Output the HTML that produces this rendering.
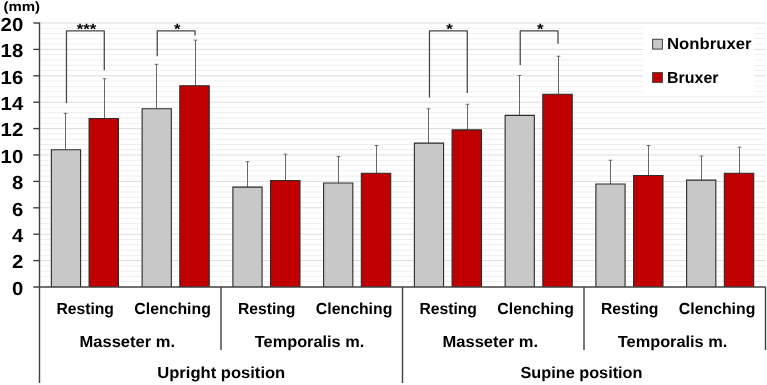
<!DOCTYPE html>
<html lang="en"><head><meta charset="utf-8"><title>Muscle thickness chart</title>
<style>html,body{margin:0;padding:0;background:#fff;}body{width:767px;height:385px;overflow:hidden;}svg{display:block;}text{text-rendering:geometricPrecision;font-family:"Liberation Sans",sans-serif;font-weight:bold;fill:#000;}</style></head><body>
<svg width="767" height="385" viewBox="0 0 767 385">
<rect width="767" height="385" fill="#fff"/>
<g shape-rendering="auto">
<line x1="39.5" x2="765.5" y1="281.72" y2="281.72" stroke="#efefef" stroke-width="1"/>
<line x1="39.5" x2="765.5" y1="276.44" y2="276.44" stroke="#efefef" stroke-width="1"/>
<line x1="39.5" x2="765.5" y1="271.16" y2="271.16" stroke="#efefef" stroke-width="1"/>
<line x1="39.5" x2="765.5" y1="265.88" y2="265.88" stroke="#efefef" stroke-width="1"/>
<line x1="39.5" x2="765.5" y1="260.60" y2="260.60" stroke="#dcdcdc" stroke-width="1"/>
<line x1="39.5" x2="765.5" y1="255.32" y2="255.32" stroke="#efefef" stroke-width="1"/>
<line x1="39.5" x2="765.5" y1="250.04" y2="250.04" stroke="#efefef" stroke-width="1"/>
<line x1="39.5" x2="765.5" y1="244.76" y2="244.76" stroke="#efefef" stroke-width="1"/>
<line x1="39.5" x2="765.5" y1="239.48" y2="239.48" stroke="#efefef" stroke-width="1"/>
<line x1="39.5" x2="765.5" y1="234.20" y2="234.20" stroke="#dcdcdc" stroke-width="1"/>
<line x1="39.5" x2="765.5" y1="228.92" y2="228.92" stroke="#efefef" stroke-width="1"/>
<line x1="39.5" x2="765.5" y1="223.64" y2="223.64" stroke="#efefef" stroke-width="1"/>
<line x1="39.5" x2="765.5" y1="218.36" y2="218.36" stroke="#efefef" stroke-width="1"/>
<line x1="39.5" x2="765.5" y1="213.08" y2="213.08" stroke="#efefef" stroke-width="1"/>
<line x1="39.5" x2="765.5" y1="207.80" y2="207.80" stroke="#dcdcdc" stroke-width="1"/>
<line x1="39.5" x2="765.5" y1="202.52" y2="202.52" stroke="#efefef" stroke-width="1"/>
<line x1="39.5" x2="765.5" y1="197.24" y2="197.24" stroke="#efefef" stroke-width="1"/>
<line x1="39.5" x2="765.5" y1="191.96" y2="191.96" stroke="#efefef" stroke-width="1"/>
<line x1="39.5" x2="765.5" y1="186.68" y2="186.68" stroke="#efefef" stroke-width="1"/>
<line x1="39.5" x2="765.5" y1="181.40" y2="181.40" stroke="#dcdcdc" stroke-width="1"/>
<line x1="39.5" x2="765.5" y1="176.12" y2="176.12" stroke="#efefef" stroke-width="1"/>
<line x1="39.5" x2="765.5" y1="170.84" y2="170.84" stroke="#efefef" stroke-width="1"/>
<line x1="39.5" x2="765.5" y1="165.56" y2="165.56" stroke="#efefef" stroke-width="1"/>
<line x1="39.5" x2="765.5" y1="160.28" y2="160.28" stroke="#efefef" stroke-width="1"/>
<line x1="39.5" x2="765.5" y1="155.00" y2="155.00" stroke="#dcdcdc" stroke-width="1"/>
<line x1="39.5" x2="765.5" y1="149.72" y2="149.72" stroke="#efefef" stroke-width="1"/>
<line x1="39.5" x2="765.5" y1="144.44" y2="144.44" stroke="#efefef" stroke-width="1"/>
<line x1="39.5" x2="765.5" y1="139.16" y2="139.16" stroke="#efefef" stroke-width="1"/>
<line x1="39.5" x2="765.5" y1="133.88" y2="133.88" stroke="#efefef" stroke-width="1"/>
<line x1="39.5" x2="765.5" y1="128.60" y2="128.60" stroke="#dcdcdc" stroke-width="1"/>
<line x1="39.5" x2="765.5" y1="123.32" y2="123.32" stroke="#efefef" stroke-width="1"/>
<line x1="39.5" x2="765.5" y1="118.04" y2="118.04" stroke="#efefef" stroke-width="1"/>
<line x1="39.5" x2="765.5" y1="112.76" y2="112.76" stroke="#efefef" stroke-width="1"/>
<line x1="39.5" x2="765.5" y1="107.48" y2="107.48" stroke="#efefef" stroke-width="1"/>
<line x1="39.5" x2="765.5" y1="102.20" y2="102.20" stroke="#dcdcdc" stroke-width="1"/>
<line x1="39.5" x2="765.5" y1="96.92" y2="96.92" stroke="#efefef" stroke-width="1"/>
<line x1="39.5" x2="765.5" y1="91.64" y2="91.64" stroke="#efefef" stroke-width="1"/>
<line x1="39.5" x2="765.5" y1="86.36" y2="86.36" stroke="#efefef" stroke-width="1"/>
<line x1="39.5" x2="765.5" y1="81.08" y2="81.08" stroke="#efefef" stroke-width="1"/>
<line x1="39.5" x2="765.5" y1="75.80" y2="75.80" stroke="#dcdcdc" stroke-width="1"/>
<line x1="39.5" x2="765.5" y1="70.52" y2="70.52" stroke="#efefef" stroke-width="1"/>
<line x1="39.5" x2="765.5" y1="65.24" y2="65.24" stroke="#efefef" stroke-width="1"/>
<line x1="39.5" x2="765.5" y1="59.96" y2="59.96" stroke="#efefef" stroke-width="1"/>
<line x1="39.5" x2="765.5" y1="54.68" y2="54.68" stroke="#efefef" stroke-width="1"/>
<line x1="39.5" x2="765.5" y1="49.40" y2="49.40" stroke="#dcdcdc" stroke-width="1"/>
<line x1="39.5" x2="765.5" y1="44.12" y2="44.12" stroke="#efefef" stroke-width="1"/>
<line x1="39.5" x2="765.5" y1="38.84" y2="38.84" stroke="#efefef" stroke-width="1"/>
<line x1="39.5" x2="765.5" y1="33.56" y2="33.56" stroke="#efefef" stroke-width="1"/>
<line x1="39.5" x2="765.5" y1="28.28" y2="28.28" stroke="#efefef" stroke-width="1"/>
<line x1="39.5" x2="765.5" y1="23.00" y2="23.00" stroke="#dcdcdc" stroke-width="1"/>
</g>
<rect x="643" y="24.5" width="111.7" height="69.5" fill="#fff"/>
<line x1="65.5" x2="65.5" y1="113.29" y2="149.72" stroke="#686868" stroke-width="1"/>
<line x1="63.7" x2="67.3" y1="113.29" y2="113.29" stroke="#686868" stroke-width="1"/>
<line x1="104.5" x2="104.5" y1="78.7" y2="118.44" stroke="#686868" stroke-width="1"/>
<line x1="102.7" x2="106.3" y1="78.7" y2="78.7" stroke="#686868" stroke-width="1"/>
<rect x="51.38" y="149.72" width="29.2" height="137.28" fill="#c8c8c8"/>
<polyline points="51.38,287.0 51.38,149.72 80.58,149.72 80.58,287.0" fill="none" stroke="#2b2b2b" stroke-width="1.1"/>
<rect x="89.08" y="118.44" width="29.4" height="168.56" fill="#c00000"/>
<polyline points="89.08,287.0 89.08,118.44 118.47,118.44 118.47,287.0" fill="none" stroke="#2b2b2b" stroke-width="1.1"/>
<line x1="156.5" x2="156.5" y1="64.32" y2="108.80" stroke="#686868" stroke-width="1"/>
<line x1="154.7" x2="158.3" y1="64.32" y2="64.32" stroke="#686868" stroke-width="1"/>
<line x1="195.5" x2="195.5" y1="40.16" y2="85.70" stroke="#686868" stroke-width="1"/>
<line x1="193.7" x2="197.3" y1="40.16" y2="40.16" stroke="#686868" stroke-width="1"/>
<rect x="142.12" y="108.80" width="29.2" height="178.20" fill="#c8c8c8"/>
<polyline points="142.12,287.0 142.12,108.80 171.32,108.80 171.32,287.0" fill="none" stroke="#2b2b2b" stroke-width="1.1"/>
<rect x="179.82" y="85.70" width="29.4" height="201.30" fill="#c00000"/>
<polyline points="179.82,287.0 179.82,85.70 209.22,85.70 209.22,287.0" fill="none" stroke="#2b2b2b" stroke-width="1.1"/>
<line x1="247.5" x2="247.5" y1="161.73" y2="187.08" stroke="#686868" stroke-width="1"/>
<line x1="245.7" x2="249.3" y1="161.73" y2="161.73" stroke="#686868" stroke-width="1"/>
<line x1="285.5" x2="285.5" y1="154.21" y2="180.48" stroke="#686868" stroke-width="1"/>
<line x1="283.7" x2="287.3" y1="154.21" y2="154.21" stroke="#686868" stroke-width="1"/>
<rect x="232.88" y="187.08" width="29.2" height="99.92" fill="#c8c8c8"/>
<polyline points="232.88,287.0 232.88,187.08 262.07,187.08 262.07,287.0" fill="none" stroke="#2b2b2b" stroke-width="1.1"/>
<rect x="270.57" y="180.48" width="29.4" height="106.52" fill="#c00000"/>
<polyline points="270.57,287.0 270.57,180.48 299.97,180.48 299.97,287.0" fill="none" stroke="#2b2b2b" stroke-width="1.1"/>
<line x1="338.5" x2="338.5" y1="156.45" y2="182.98" stroke="#686868" stroke-width="1"/>
<line x1="336.7" x2="340.3" y1="156.45" y2="156.45" stroke="#686868" stroke-width="1"/>
<line x1="376.5" x2="376.5" y1="145.5" y2="173.22" stroke="#686868" stroke-width="1"/>
<line x1="374.7" x2="378.3" y1="145.5" y2="145.5" stroke="#686868" stroke-width="1"/>
<rect x="323.62" y="182.98" width="29.2" height="104.02" fill="#c8c8c8"/>
<polyline points="323.62,287.0 323.62,182.98 352.82,182.98 352.82,287.0" fill="none" stroke="#2b2b2b" stroke-width="1.1"/>
<rect x="361.32" y="173.22" width="29.4" height="113.78" fill="#c00000"/>
<polyline points="361.32,287.0 361.32,173.22 390.72,173.22 390.72,287.0" fill="none" stroke="#2b2b2b" stroke-width="1.1"/>
<line x1="428.5" x2="428.5" y1="108.8" y2="143.12" stroke="#686868" stroke-width="1"/>
<line x1="426.7" x2="430.3" y1="108.8" y2="108.8" stroke="#686868" stroke-width="1"/>
<line x1="467.5" x2="467.5" y1="104.31" y2="129.92" stroke="#686868" stroke-width="1"/>
<line x1="465.7" x2="469.3" y1="104.31" y2="104.31" stroke="#686868" stroke-width="1"/>
<rect x="414.38" y="143.12" width="29.2" height="143.88" fill="#c8c8c8"/>
<polyline points="414.38,287.0 414.38,143.12 443.57,143.12 443.57,287.0" fill="none" stroke="#2b2b2b" stroke-width="1.1"/>
<rect x="452.07" y="129.92" width="29.4" height="157.08" fill="#c00000"/>
<polyline points="452.07,287.0 452.07,129.92 481.47,129.92 481.47,287.0" fill="none" stroke="#2b2b2b" stroke-width="1.1"/>
<line x1="519.5" x2="519.5" y1="75.54" y2="115.40" stroke="#686868" stroke-width="1"/>
<line x1="517.7" x2="521.3" y1="75.54" y2="75.54" stroke="#686868" stroke-width="1"/>
<line x1="558.5" x2="558.5" y1="56.26" y2="94.28" stroke="#686868" stroke-width="1"/>
<line x1="556.7" x2="560.3" y1="56.26" y2="56.26" stroke="#686868" stroke-width="1"/>
<rect x="505.12" y="115.40" width="29.2" height="171.60" fill="#c8c8c8"/>
<polyline points="505.12,287.0 505.12,115.40 534.33,115.40 534.33,287.0" fill="none" stroke="#2b2b2b" stroke-width="1.1"/>
<rect x="542.83" y="94.28" width="29.4" height="192.72" fill="#c00000"/>
<polyline points="542.83,287.0 542.83,94.28 572.23,94.28 572.23,287.0" fill="none" stroke="#2b2b2b" stroke-width="1.1"/>
<line x1="610.5" x2="610.5" y1="160.28" y2="184.04" stroke="#686868" stroke-width="1"/>
<line x1="608.7" x2="612.3" y1="160.28" y2="160.28" stroke="#686868" stroke-width="1"/>
<line x1="648.5" x2="648.5" y1="145.5" y2="175.46" stroke="#686868" stroke-width="1"/>
<line x1="646.7" x2="650.3" y1="145.5" y2="145.5" stroke="#686868" stroke-width="1"/>
<rect x="595.88" y="184.04" width="29.2" height="102.96" fill="#c8c8c8"/>
<polyline points="595.88,287.0 595.88,184.04 625.08,184.04 625.08,287.0" fill="none" stroke="#2b2b2b" stroke-width="1.1"/>
<rect x="633.58" y="175.46" width="29.4" height="111.54" fill="#c00000"/>
<polyline points="633.58,287.0 633.58,175.46 662.98,175.46 662.98,287.0" fill="none" stroke="#2b2b2b" stroke-width="1.1"/>
<line x1="701.5" x2="701.5" y1="156.06" y2="180.08" stroke="#686868" stroke-width="1"/>
<line x1="699.7" x2="703.3" y1="156.06" y2="156.06" stroke="#686868" stroke-width="1"/>
<line x1="739.5" x2="739.5" y1="147.21" y2="173.22" stroke="#686868" stroke-width="1"/>
<line x1="737.7" x2="741.3" y1="147.21" y2="147.21" stroke="#686868" stroke-width="1"/>
<rect x="686.62" y="180.08" width="29.2" height="106.92" fill="#c8c8c8"/>
<polyline points="686.62,287.0 686.62,180.08 715.83,180.08 715.83,287.0" fill="none" stroke="#2b2b2b" stroke-width="1.1"/>
<rect x="724.33" y="173.22" width="29.4" height="113.78" fill="#c00000"/>
<polyline points="724.33,287.0 724.33,173.22 753.73,173.22 753.73,287.0" fill="none" stroke="#2b2b2b" stroke-width="1.1"/>
<line x1="39.5" x2="39.5" y1="22.5" y2="383" stroke="#404040" stroke-width="1.4"/>
<line x1="33.3" x2="765.5" y1="287.0" y2="287.0" stroke="#404040" stroke-width="1.4"/>
<line x1="33.3" x2="39.5" y1="260.60" y2="260.60" stroke="#404040" stroke-width="1.4"/>
<line x1="33.3" x2="39.5" y1="234.20" y2="234.20" stroke="#404040" stroke-width="1.4"/>
<line x1="33.3" x2="39.5" y1="207.80" y2="207.80" stroke="#404040" stroke-width="1.4"/>
<line x1="33.3" x2="39.5" y1="181.40" y2="181.40" stroke="#404040" stroke-width="1.4"/>
<line x1="33.3" x2="39.5" y1="155.00" y2="155.00" stroke="#404040" stroke-width="1.4"/>
<line x1="33.3" x2="39.5" y1="128.60" y2="128.60" stroke="#404040" stroke-width="1.4"/>
<line x1="33.3" x2="39.5" y1="102.20" y2="102.20" stroke="#404040" stroke-width="1.4"/>
<line x1="33.3" x2="39.5" y1="75.80" y2="75.80" stroke="#404040" stroke-width="1.4"/>
<line x1="33.3" x2="39.5" y1="49.40" y2="49.40" stroke="#404040" stroke-width="1.4"/>
<line x1="33.3" x2="39.5" y1="23.00" y2="23.00" stroke="#404040" stroke-width="1.4"/>
<line x1="221.00" x2="221.00" y1="287.0" y2="350" stroke="#404040" stroke-width="1.4"/>
<line x1="584.00" x2="584.00" y1="287.0" y2="350" stroke="#404040" stroke-width="1.4"/>
<line x1="765.50" x2="765.50" y1="287.0" y2="350" stroke="#404040" stroke-width="1.4"/>
<line x1="402.50" x2="402.50" y1="287.0" y2="383" stroke="#404040" stroke-width="1.4"/>
<polyline points="66.47,103.25 66.47,30.75 104.28,30.75 104.28,70.25" fill="none" stroke="#444444" stroke-width="1.25" stroke-linejoin="round"/>
<polyline points="157.22,56.25 157.22,30.75 195.03,30.75 195.03,35.5" fill="none" stroke="#444444" stroke-width="1.25" stroke-linejoin="round"/>
<polyline points="429.48,97.5 429.48,30.75 467.27,30.75 467.27,93" fill="none" stroke="#444444" stroke-width="1.25" stroke-linejoin="round"/>
<polyline points="520.23,65 520.23,30.75 558.02,30.75 558.02,43.75" fill="none" stroke="#444444" stroke-width="1.25" stroke-linejoin="round"/>
<text x="86.47" y="34" font-size="15" text-anchor="middle" fill="#222" textLength="19.5" lengthAdjust="spacingAndGlyphs">***</text>
<text x="177.22" y="34" font-size="15" text-anchor="middle" fill="#222" textLength="6.5" lengthAdjust="spacingAndGlyphs">*</text>
<text x="449.48" y="34" font-size="15" text-anchor="middle" fill="#222" textLength="6.5" lengthAdjust="spacingAndGlyphs">*</text>
<text x="540.23" y="34" font-size="15" text-anchor="middle" fill="#222" textLength="6.5" lengthAdjust="spacingAndGlyphs">*</text>
<text x="23.2" y="294.80" font-size="19" text-anchor="end" textLength="11.3" lengthAdjust="spacingAndGlyphs">0</text>
<text x="23.2" y="268.40" font-size="19" text-anchor="end" textLength="11.3" lengthAdjust="spacingAndGlyphs">2</text>
<text x="23.2" y="242.00" font-size="19" text-anchor="end" textLength="11.3" lengthAdjust="spacingAndGlyphs">4</text>
<text x="23.2" y="215.60" font-size="19" text-anchor="end" textLength="11.3" lengthAdjust="spacingAndGlyphs">6</text>
<text x="23.2" y="189.20" font-size="19" text-anchor="end" textLength="11.3" lengthAdjust="spacingAndGlyphs">8</text>
<text x="23.2" y="162.80" font-size="19" text-anchor="end" textLength="22.6" lengthAdjust="spacingAndGlyphs">10</text>
<text x="23.2" y="136.40" font-size="19" text-anchor="end" textLength="22.6" lengthAdjust="spacingAndGlyphs">12</text>
<text x="23.2" y="110.00" font-size="19" text-anchor="end" textLength="22.6" lengthAdjust="spacingAndGlyphs">14</text>
<text x="23.2" y="83.60" font-size="19" text-anchor="end" textLength="22.6" lengthAdjust="spacingAndGlyphs">16</text>
<text x="23.2" y="57.20" font-size="19" text-anchor="end" textLength="22.6" lengthAdjust="spacingAndGlyphs">18</text>
<text x="23.2" y="30.80" font-size="19" text-anchor="end" textLength="22.6" lengthAdjust="spacingAndGlyphs">20</text>
<text x="3.4" y="11" font-size="13.5" textLength="36.6" lengthAdjust="spacingAndGlyphs">(mm)</text>
<text x="85.17" y="314" font-size="16" text-anchor="middle" textLength="57.5" lengthAdjust="spacingAndGlyphs">Resting</text>
<text x="172.62" y="314" font-size="16" text-anchor="middle" textLength="76.5" lengthAdjust="spacingAndGlyphs">Clenching</text>
<text x="266.68" y="314" font-size="16" text-anchor="middle" textLength="57.5" lengthAdjust="spacingAndGlyphs">Resting</text>
<text x="354.12" y="314" font-size="16" text-anchor="middle" textLength="76.5" lengthAdjust="spacingAndGlyphs">Clenching</text>
<text x="448.18" y="314" font-size="16" text-anchor="middle" textLength="57.5" lengthAdjust="spacingAndGlyphs">Resting</text>
<text x="535.62" y="314" font-size="16" text-anchor="middle" textLength="76.5" lengthAdjust="spacingAndGlyphs">Clenching</text>
<text x="629.67" y="314" font-size="16" text-anchor="middle" textLength="57.5" lengthAdjust="spacingAndGlyphs">Resting</text>
<text x="717.12" y="314" font-size="16" text-anchor="middle" textLength="76.5" lengthAdjust="spacingAndGlyphs">Clenching</text>
<text x="127.25" y="347" font-size="16" text-anchor="middle" textLength="95.5" lengthAdjust="spacingAndGlyphs">Masseter m.</text>
<text x="309.55" y="347" font-size="16" text-anchor="middle" textLength="109.5" lengthAdjust="spacingAndGlyphs">Temporalis m.</text>
<text x="490.25" y="347" font-size="16" text-anchor="middle" textLength="95.5" lengthAdjust="spacingAndGlyphs">Masseter m.</text>
<text x="672.55" y="347" font-size="16" text-anchor="middle" textLength="109.5" lengthAdjust="spacingAndGlyphs">Temporalis m.</text>
<text x="221.25" y="378" font-size="16" text-anchor="middle" textLength="128" lengthAdjust="spacingAndGlyphs">Upright position</text>
<text x="581.5" y="378" font-size="16" text-anchor="middle" textLength="122" lengthAdjust="spacingAndGlyphs">Supine position</text>
<rect x="652.6" y="39.3" width="9.8" height="9.8" fill="#c8c8c8" stroke="#404040" stroke-width="1"/>
<rect x="652.6" y="72.6" width="9.8" height="9.8" fill="#c00000" stroke="#404040" stroke-width="1"/>
<text x="667" y="49" font-size="16" textLength="84.5" lengthAdjust="spacingAndGlyphs">Nonbruxer</text>
<text x="667" y="83" font-size="16" textLength="51.5" lengthAdjust="spacingAndGlyphs">Bruxer</text>
</svg></body></html>
